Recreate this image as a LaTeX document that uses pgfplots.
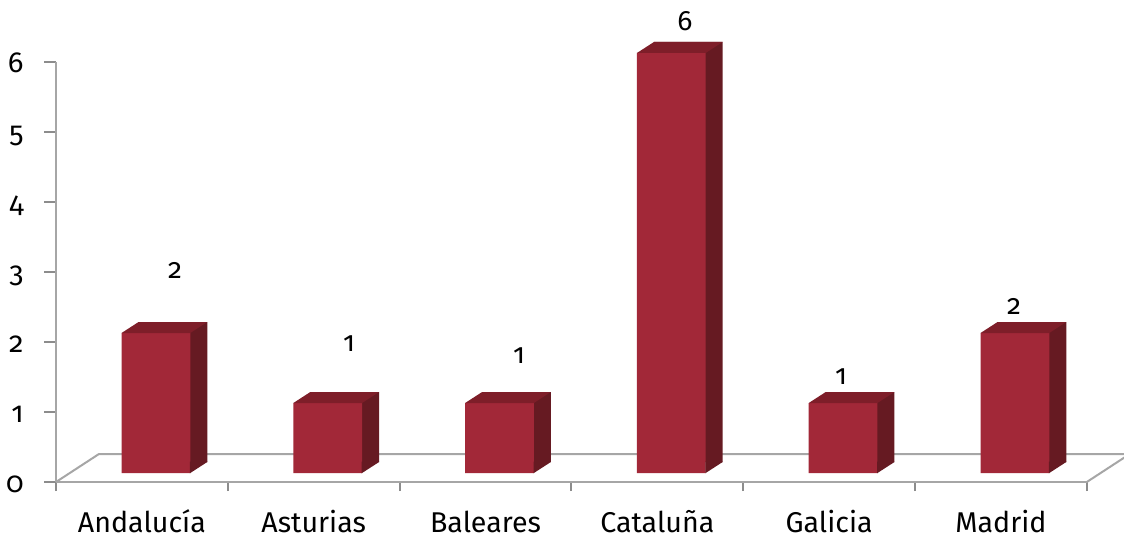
\documentclass[border=0pt]{standalone}
\usepackage{fontspec}
\setmainfont{Fira Sans}[Numbers=OldStyle]
\usepackage{pgfplots}
\pgfplotsset{compat=1.18}
\usepackage{pgfplotstable}

\definecolor{barfront}{HTML}{A22838}
\definecolor{bartop}{HTML}{7E1E29}
\definecolor{barside}{HTML}{661A22}
\definecolor{axisgray}{HTML}{A6A6A6}
\definecolor{tickgray}{HTML}{8C8C8C}

% category centre, value
\pgfplotstableread{
x v
0.5 2
1.5 1
2.5 1
3.5 6
4.5 1
5.5 2
}\datatable

\pgfdeclareplotmark{bartopface}{%
  \pgfpathmoveto{\pgfpoint{-17.18pt}{0pt}}%
  \pgfpathlineto{\pgfpoint{17.18pt}{0pt}}%
  \pgfpathlineto{\pgfpoint{25.68pt}{5.5pt}}%
  \pgfpathlineto{\pgfpoint{-8.68pt}{5.5pt}}%
  \pgfpathclose\pgfusepathqfill}
\pgfdeclareplotmark{barfoot}{%
  \pgfpathmoveto{\pgfpoint{17.0pt}{-0.2pt}}%
  \pgfpathlineto{\pgfpoint{17.0pt}{5.7pt}}%
  \pgfpathlineto{\pgfpoint{25.68pt}{5.7pt}}%
  \pgfpathlineto{\pgfpoint{25.68pt}{5.5pt}}%
  \pgfpathlineto{\pgfpoint{17.18pt}{0pt}}%
  \pgfpathclose\pgfusepathqfill}

\begin{document}
\begin{tikzpicture}
\begin{axis}[
  x=85.9pt, y=35pt,
  xmin=0, xmax=6, ymin=0, ymax=6,
  axis x line*=bottom, axis y line*=left,
  axis line style={draw=axisgray, line width=1pt},
  clip=false,
  ytick={0,...,6},
  xtick={0.5,1.5,...,5.5},
  xticklabels={Andalucía,Asturias,Baleares,Cataluña,Galicia,Madrid},
  minor xtick={0,...,6},
  every major x tick/.append style={draw=none},
  tick align=outside,
  major tick length=6pt,
  minor tick length=4.5pt,
  tick style={draw=tickgray, line width=1pt},
  minor tick style={draw=tickgray, line width=1pt},
  /pgf/number format/assume math mode=true,
  yticklabel style={font=\fontsize{14.5}{16}\selectfont, anchor=base east, inner sep=0pt, xshift=-10pt, yshift=-5.25pt},
  xticklabel style={font=\fontsize{14.3}{16}\selectfont, anchor=base, inner sep=0pt, yshift=-19pt},
]
% floor
\addplot[axisgray, line width=1pt, no marks] coordinates {(0,0) (0.25,0.4) (6.25,0.4) (6,0)};
% back face / side
\addplot[ybar, bar width=0.4, bar shift=0pt, draw=none, fill=barside, xshift=15.5pt, yshift=10pt] table[x=x,y=v]{\datatable};
\addplot[only marks, mark=barfoot, mark options={fill=barside, draw=none}, xshift=7pt, yshift=4.5pt] table[x=x, y expr=0]{\datatable};
% front face
\addplot[ybar, bar width=0.4, bar shift=0pt, draw=none, fill=barfront, xshift=7pt, yshift=4.5pt] table[x=x,y=v]{\datatable};
% top face
\addplot[only marks, mark=bartopface, mark options={fill=bartop, draw=none}, xshift=7pt, yshift=4.5pt] table[x=x,y=v]{\datatable};

% value labels (positions as in the original)
\begin{scope}[every node/.style={font=\fontsize{14}{16}\selectfont, anchor=base, inner sep=0pt}]
\node at (axis cs:0.693,2.914) {2};
\node at (axis cs:1.705,1.871) {1};
\node at (axis cs:2.695,1.700) {1};
\node at (axis cs:3.661,6.457) {6};
\node at (axis cs:4.569,1.400) {1};
\node at (axis cs:5.576,2.386) {2};
\end{scope}

\coordinate (bbsw) at (axis cs:-0.326,-0.7857);
\coordinate (bbne) at (axis cs:6.2165,6.8857);
\end{axis}
\pgfresetboundingbox
\path[use as bounding box] (bbsw) rectangle (bbne);
\end{tikzpicture}
\end{document}
